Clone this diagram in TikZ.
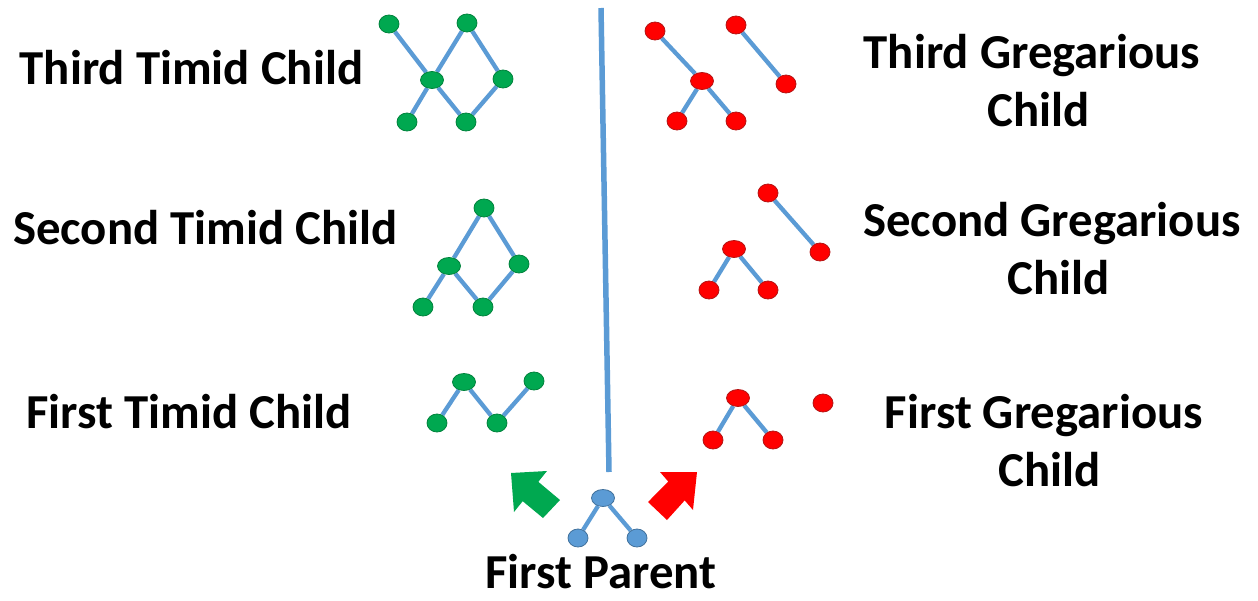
\documentclass[tikz,border=0pt]{standalone}
\usepackage{fontspec}
\setmainfont{Carlito}
\usetikzlibrary{shapes.geometric,backgrounds}
\definecolor{edgeblue}{RGB}{91,155,213}
\definecolor{pblue}{RGB}{91,155,213}
\definecolor{pblueline}{RGB}{65,113,156}
\definecolor{tgreen}{RGB}{0,168,80}
\definecolor{tgreenline}{RGB}{0,130,60}
\definecolor{gred}{RGB}{255,0,0}
\definecolor{gredline}{RGB}{180,20,20}
\tikzset{
  vtx/.style={ellipse, minimum width=20pt, minimum height=18pt, inner sep=0pt, line width=0.8pt},
  wide/.style={minimum width=23pt, minimum height=17pt},
  gv/.style={vtx, fill=tgreen, draw=tgreenline},
  rv/.style={vtx, fill=gred, draw=gredline},
  pv/.style={vtx, fill=pblue, draw=pblueline},
  ed/.style={draw=edgeblue, line width=4.3pt},
  txt/.style={font=\bfseries\fontsize{48.8}{58}\selectfont, inner sep=0pt},
  lbl/.style={txt, align=center},
}
\begin{document}
\begin{tikzpicture}[x=1pt,y=-1pt]
\useasboundingbox (0,0) rectangle (1258,600);
% divider
\coordinate (vtop) at (601,8);
\coordinate (vbot) at (609,472);
\draw[edgeblue, line width=5.5pt] (vtop) -- (vbot);

% Third Timid Child (green)
\node[gv] (a1) at (389,24) {};
\node[gv] (a2) at (467,23) {};
\node[gv, wide] (a3) at (432,80) {};
\node[gv] (a4) at (503,79) {};
\node[gv] (a5) at (407,122) {};
\node[gv] (a6) at (466,122) {};
% Second Timid Child
\node[gv] (b1) at (484,208) {};
\node[gv, wide] (b2) at (449,266) {};
\node[gv] (b3) at (519,264) {};
\node[gv] (b4) at (423,307) {};
\node[gv] (b5) at (483,307) {};
% First Timid Child
\node[gv] (c1) at (437,423) {};
\node[gv, wide] (c2) at (464,382) {};
\node[gv] (c3) at (497,423) {};
\node[gv] (c4) at (534,381) {};

% Third Gregarious Child (red)
\node[rv] (d1) at (655,31) {};
\node[rv] (d2) at (736,25) {};
\node[rv, wide] (d3) at (702,81) {};
\node[rv] (d4) at (786,84) {};
\node[rv] (d5) at (677,121) {};
\node[rv] (d6) at (736,121) {};
% Second Gregarious Child
\node[rv] (e1) at (768,193) {};
\node[rv] (e2) at (820,252) {};
\node[rv, wide] (e3) at (734,249) {};
\node[rv] (e4) at (709,290) {};
\node[rv] (e5) at (768,290) {};
% First Gregarious Child
\node[rv, wide] (f1) at (738,398) {};
\node[rv] (f2) at (713,440) {};
\node[rv] (f3) at (773,440) {};
\node[rv] (f4) at (823,403) {};

% First Parent
\node[pv, wide] (p1) at (603,498) {};
\node[pv] (p2) at (578,538) {};
\node[pv] (p3) at (637,538) {};

% edges
\begin{scope}[on background layer, every path/.style=ed]
\draw (a1) -- (a3); \draw (a2) -- (a3); \draw (a2) -- (a4);
\draw (a3) -- (a5); \draw (a3) -- (a6); \draw (a4) -- (a6);
\draw (b1) -- (b2); \draw (b1) -- (b3); \draw (b2) -- (b4);
\draw (b2) -- (b5); \draw (b3) -- (b5);
\draw (c1) -- (c2); \draw (c2) -- (c3); \draw (c3) -- (c4);
\draw (d1) -- (d3); \draw (d3) -- (d5); \draw (d3) -- (d6); \draw (d2) -- (d4);
\draw (e1) -- (e2); \draw (e3) -- (e4); \draw (e3) -- (e5);
\draw (f1) -- (f2); \draw (f1) -- (f3);
\draw (p1) -- (p2); \draw (p1) -- (p3);
\end{scope}

% block arrows
\fill[tgreen] (511,473) -- (547,471) -- (538.3,481.8) -- (560,500) -- (543,518) -- (522.7,501.2) -- (514,512) -- cycle;
\fill[gred] (697,472) -- (660,472) -- (668.3,481.6) -- (648,502) -- (667,520) -- (684.7,500.4) -- (693,510) -- cycle;

% labels
\node[txt] (t3) at (191.5,68) {Third Timid Child};
\node[txt] (t2) at (205.5,228) {Second Timid Child};
\node[txt] (t1) at (189,412) {First Timid Child};
\node[lbl] (g3) at (1032,81) {Third Gregarious\\\hspace*{14pt}Child};
\node[lbl] (g2) at (1052,249) {Second Gregarious\\\hspace*{14pt}Child};
\node[lbl] (g1) at (1044,441) {First Gregarious\\\hspace*{12pt}Child};
\node[txt, anchor=base] (fp) at (601,588) {First Parent};
\end{tikzpicture}
\end{document}
